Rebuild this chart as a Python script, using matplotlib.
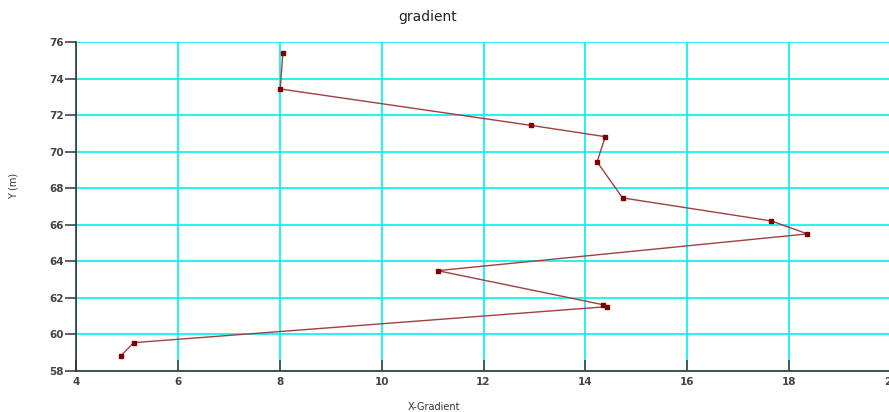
import matplotlib
matplotlib.use("Agg")
import matplotlib.pyplot as plt

x_gradient = [8.06, 8.01, 12.93, 14.39, 14.23, 14.73, 17.65, 18.36, 11.10, 14.34, 14.42, 5.13, 4.88]
y_m = [75.38, 73.43, 71.44, 70.82, 69.44, 67.47, 66.21, 65.50, 63.49, 61.63, 61.52, 59.55, 58.82]
x_ticks = [4, 6, 8, 10, 12, 14, 16, 18, 20]
y_ticks = [58, 60, 62, 64, 66, 68, 70, 72, 74, 76]

W, H = 889, 412
fig = plt.figure(figsize=(W / 100, H / 100), dpi=100)
left, right, top, bottom = 76, 891, 42, 371
ax = fig.add_axes([left / W, 1 - bottom / H, (right - left) / W, (bottom - top) / H])

ax.set_xlim(4, 20)
ax.set_ylim(58, 76)
ax.set_xticks(x_ticks)
ax.set_yticks(y_ticks)
ax.grid(True, color="#00f0f0", linewidth=1.4, alpha=0.85)
ax.set_axisbelow(True)

ax.plot(x_gradient, y_m, color="#a04040", linewidth=1.0, marker="s", markersize=3.5,
        markerfacecolor="#800000", markeredgecolor="#800000", zorder=3)

for s in ["top", "right"]:
    ax.spines[s].set_visible(False)
for s in ["left", "bottom"]:
    ax.spines[s].set_color("#333333")
    ax.spines[s].set_linewidth(1.2)

ax.tick_params(axis="x", direction="in", length=8, width=1.2, color="#444444",
               labelsize=7.5, labelcolor="#444444", pad=4)
ax.tick_params(axis="y", direction="out", length=8, width=1.2, color="#444444",
               labelsize=7.5, labelcolor="#444444", pad=1)
for lab in ax.get_xticklabels() + ax.get_yticklabels():
    lab.set_fontweight("bold")

fig.text(428 / W, 1 - 17 / H, "gradient", ha="center", va="center", fontsize=10, color="#222222")
fig.text(434 / W, 1 - 407 / H, "X-Gradient", ha="center", va="center", fontsize=7, color="#333333")
fig.text(14 / W, 1 - 186 / H, "Y (m)", ha="center", va="center", fontsize=7, color="#333333", rotation=90)

fig.savefig("out.png", dpi=100)
